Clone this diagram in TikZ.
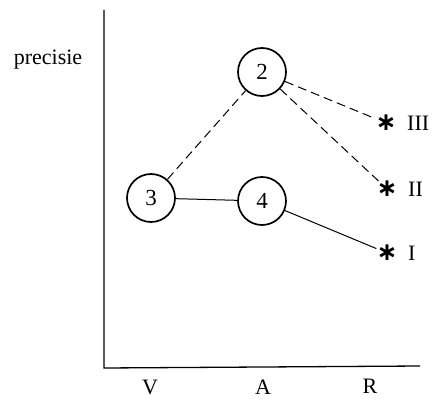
\documentclass[tikz,border=0pt]{standalone}
\usepackage{fontspec}
\setmainfont{Liberation Serif}
\newfontfamily\starfont{DejaVu Sans}
\usepackage{tikz}
\usetikzlibrary{positioning}

\begin{document}
\begin{tikzpicture}[
  x=1pt, y=-1pt,
  every node/.style={font=\fontsize{22}{26}\selectfont},
  phase/.style={draw, circle, line width=1.7pt, minimum size=48pt, inner sep=0pt,
    font=\fontsize{23}{24}\selectfont},
  outcome/.style={inner sep=0pt, font=\starfont\bfseries\fontsize{25}{25}\selectfont},
  dashlink/.style={line width=1pt, dash pattern=on 9pt off 5pt},
  solidlink/.style={line width=1pt}
]
  \useasboundingbox (0,0) rectangle (433,401);

  % Axes
  \coordinate (ytop) at (104,10);
  \coordinate (orig) at (104,368);
  \coordinate (xend) at (420,366);
  \draw[line width=1.3pt] (ytop) -- (orig) -- (xend);

  % Axis labels
  \node (yl) at (48,60) {precisie};
  \node (lv) at (150,387) {V};
  \node (la) at (263,387) {A};
  \node (lr) at (370,386) {R};

  % Phases
  \node[phase] (n2) at (262,72) {2};
  \node[phase] (n3) at (151,198) {3};
  \node[phase] (n4) at (262,201) {4};

  % Outcomes
  \node[outcome] (s3) at (386,123) {∗};
  \node[outcome] (s2) at (387,189) {∗};
  \node[outcome] (s1) at (387,253) {∗};
  \node[right=7pt of s3] (t3) {III};
  \node[right=7pt of s2] (t2) {II};
  \node[right=7pt of s1] (t1) {I};

  % Links
  \draw[dashlink] (n3) -- (n2);
  \draw[dashlink] (n2) -- (s3);
  \draw[dashlink] (n2) -- (s2);
  \draw[solidlink] (n3) -- (n4);
  \draw[solidlink] (n4) -- (s1);
\end{tikzpicture}
\end{document}
